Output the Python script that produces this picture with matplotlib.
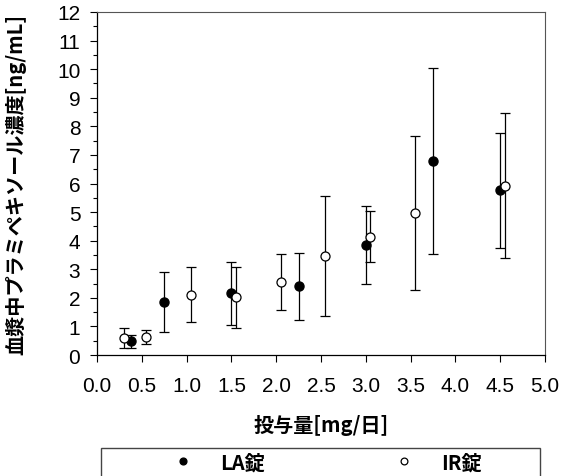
import matplotlib
matplotlib.use("Agg")
import matplotlib.pyplot as plt
from matplotlib.patches import Rectangle
from matplotlib.ticker import MultipleLocator

# LA tablets
la_dose = [0.375, 0.75, 1.5, 2.25, 3.0, 3.75, 4.5]
la_mean = [0.48, 1.84, 2.16, 2.40, 3.86, 6.79, 5.77]
la_sd = [0.23, 1.05, 1.11, 1.16, 1.36, 3.25, 2.01]

# IR tablets (drawn slightly offset in the original)
ir_dose = [0.3, 0.55, 1.05, 1.55, 2.05, 2.55, 3.05, 3.55, 4.55]
ir_mean = [0.58, 0.62, 2.11, 2.02, 2.54, 3.46, 4.14, 4.96, 5.92]
ir_sd = [0.35, 0.24, 0.96, 1.06, 0.98, 2.10, 0.90, 2.69, 2.53]

x_ticks = [0.0, 0.5, 1.0, 1.5, 2.0, 2.5, 3.0, 3.5, 4.0, 4.5, 5.0]
y_ticks = list(range(0, 13))

JP = ["Noto Sans CJK JP", "DejaVu Sans"]
NUM = ["Liberation Sans", "DejaVu Sans"]


def main():
    fig = plt.figure(figsize=(5.62, 4.77), dpi=100)
    ax = fig.add_axes([97 / 562, 1 - 356 / 477, 448 / 562, 343 / 477])

    la = ax.errorbar(la_dose, la_mean, yerr=la_sd, fmt="o", color="black",
                     mfc="black", mec="black", ms=6.5, elinewidth=0.9,
                     capsize=3.6, capthick=0.9, zorder=3)
    ir = ax.errorbar(ir_dose, ir_mean, yerr=ir_sd, fmt="o", color="black",
                     mfc="white", mec="black", ms=6.5, mew=0.9,
                     elinewidth=0.9, capsize=3.6, capthick=0.9, zorder=4)

    ax.set_xlim(0, 5)
    ax.set_ylim(0, 12)
    ax.set_xticks(x_ticks)
    ax.set_xticklabels([f"{t:.1f}" for t in x_ticks])
    ax.set_yticks(y_ticks)
    ax.yaxis.set_minor_locator(MultipleLocator(0.5))

    for s in ["left", "bottom"]:
        ax.spines[s].set_color("black")
        ax.spines[s].set_linewidth(0.9)
    for s in ["top", "right"]:
        ax.spines[s].set_color("#555555")
        ax.spines[s].set_linewidth(0.8)

    ax.tick_params(which="major", direction="out", length=5, width=0.8,
                   top=False, right=False)
    ax.tick_params(axis="x", pad=10)
    ax.tick_params(axis="y", pad=7)
    ax.tick_params(which="minor", direction="out", length=3, width=0.8,
                   left=True, top=False, right=False)
    ax.tick_params(axis="x", which="minor", bottom=False)
    for lab in ax.get_xticklabels() + ax.get_yticklabels():
        lab.set_family(NUM)
        lab.set_fontsize(15)

    ax.set_xlabel("投与量[mg/日]", family=JP, fontsize=14.5,
                  fontweight="bold", labelpad=14)
    ax.set_ylabel("血漿中プラミペキソール濃度[ng/mL]", family=JP,
                  fontsize=14.5, fontweight="bold", labelpad=22)

    # legend box at the bottom, cut off by the figure edge
    fig.patches.append(Rectangle((101 / 562, -0.1), 439 / 562,
                                 (477 - 449) / 477 + 0.1,
                                 transform=fig.transFigure, fill=False,
                                 edgecolor="#444444", linewidth=1))
    fig.legend([la[0], ir[0]], ["LA錠", "IR錠"], loc="center left",
               bbox_to_anchor=(163 / 562, 1 - 463 / 477),
               ncol=2, frameon=False, handlelength=2.0,
               handletextpad=0.85, columnspacing=5.9, borderpad=0,
               borderaxespad=0,
               prop={"family": JP, "size": 14.5, "weight": "bold"},
               markerscale=0.75)

    fig.savefig("out.png", dpi=100)


if __name__ == "__main__":
    main()
